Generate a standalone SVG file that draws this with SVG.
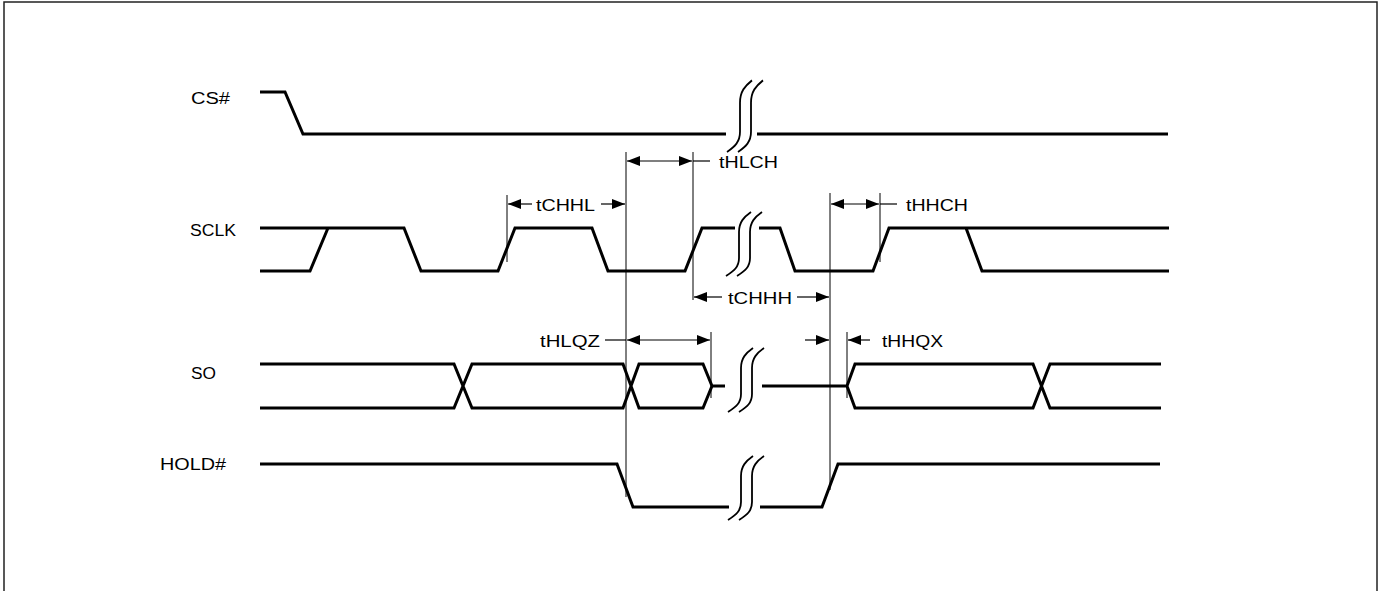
<svg xmlns="http://www.w3.org/2000/svg" xmlns:xlink="http://www.w3.org/1999/xlink" width="1383" height="591" viewBox="0 0 1383 591">
<style>
.sig{fill:none;stroke:#000;stroke-width:3;stroke-linejoin:miter}
.ref{fill:none;stroke:#000;stroke-width:1}
.dim{fill:none;stroke:#000;stroke-width:1.2}
.brk{fill:none;stroke:#000;stroke-width:1.8}
.lbl{font-family:"Liberation Sans",Arial,sans-serif;font-size:16px;fill:#000}
</style>
<defs>
<marker id="ah" markerWidth="14" markerHeight="10" refX="13" refY="5" orient="auto-start-reverse" markerUnits="userSpaceOnUse">
<path d="M0,0 L13,5 L0,10 z" fill="#000"/>
</marker>
<path id="brk" d="M0,0 C8,-5 13,-9 13,-18 L13,-44 C13,-54 18,-59 25,-64 M11,0 C19,-5 24,-9 24,-18 L24,-44 C24,-54 29,-59 36,-64"/>
</defs>
<rect x="0" y="0" width="1383" height="591" fill="#fff"/>
<rect x="4" y="2" width="1373" height="600" fill="none" stroke="#222" stroke-width="1.5"/>

<g id="cs">
<text class="lbl" x="191" y="104" textLength="39" lengthAdjust="spacingAndGlyphs">CS#</text>
<path class="sig" d="M260,92 L285,92 L303,134 L726,134 M757,134 L1168,134"/>
<use href="#brk" class="brk" transform="translate(727,152) scale(1,1.12)"/>
</g>

<g id="sclk">
<text class="lbl" x="190" y="236" textLength="46" lengthAdjust="spacingAndGlyphs">SCLK</text>
<path class="sig" d="M260,228 L404,228 L421,271 L498,271 L515,228 L592,228 L608,271 L685,271 L702,228 L735,228 M260,271 L310,271 L328,228"/>
<path class="sig" d="M759,228 L780,228 L795,271 L873,271 L889,228 L1169,228 M966,228 L982,271 L1169,271"/>
<use href="#brk" class="brk" transform="translate(726,276)"/>
</g>

<g id="so">
<text class="lbl" x="191" y="379" textLength="25" lengthAdjust="spacingAndGlyphs">SO</text>
<path class="sig" d="M260,364 L454,364 L472,408 L623,408 L639,364 L703,364 L712,386 L703,408 L639,408 L623,364 L472,364 L454,408 L260,408 M712,386 L725,386"/>
<path class="sig" d="M762,386 L847,386 L855,364 L1033,364 L1050,408 L1161,408 M847,386 L855,408 L1033,408 L1050,364 L1161,364"/>
<use href="#brk" class="brk" transform="translate(728,412)"/>
</g>

<g id="hold">
<text class="lbl" x="160" y="470" textLength="66" lengthAdjust="spacingAndGlyphs">HOLD#</text>
<path class="sig" d="M260,464 L617,464 L633,507 L729,507 M760,507 L822,507 L838,464 L1160,464"/>
<use href="#brk" class="brk" transform="translate(728,520)"/>
</g>

<g id="connectors">
<path class="ref" d="M507,195 V262 M626,152 V497 M693,152 V300 M711,332 V398 M830,193 V490 M880,193 V262 M847,332 V398"/>
<line class="dim" x1="627" y1="161" x2="692" y2="161" marker-start="url(#ah)" marker-end="url(#ah)"/>
<line class="dim" x1="693" y1="161" x2="710" y2="161"/>
<text class="lbl" x="719" y="168" textLength="59" lengthAdjust="spacingAndGlyphs">tHLCH</text>
<line class="dim" x1="532" y1="204" x2="508" y2="204" marker-end="url(#ah)"/>
<line class="dim" x1="601" y1="204" x2="625" y2="204" marker-end="url(#ah)"/>
<text class="lbl" x="536" y="211" textLength="59" lengthAdjust="spacingAndGlyphs">tCHHL</text>
<line class="dim" x1="831" y1="204" x2="879" y2="204" marker-start="url(#ah)" marker-end="url(#ah)"/>
<line class="dim" x1="880" y1="204" x2="897" y2="204"/>
<text class="lbl" x="906" y="211" textLength="62" lengthAdjust="spacingAndGlyphs">tHHCH</text>
<line class="dim" x1="722" y1="297" x2="694" y2="297" marker-end="url(#ah)"/>
<line class="dim" x1="797" y1="297" x2="829" y2="297" marker-end="url(#ah)"/>
<text class="lbl" x="728" y="304" textLength="64" lengthAdjust="spacingAndGlyphs">tCHHH</text>
<line class="dim" x1="605" y1="340" x2="626" y2="340"/>
<line class="dim" x1="627" y1="340" x2="710" y2="340" marker-start="url(#ah)" marker-end="url(#ah)"/>
<text class="lbl" x="540" y="347" textLength="60" lengthAdjust="spacingAndGlyphs">tHLQZ</text>
<line class="dim" x1="805" y1="340" x2="829" y2="340" marker-end="url(#ah)"/>
<line class="dim" x1="870" y1="340" x2="848" y2="340" marker-end="url(#ah)"/>
<text class="lbl" x="882" y="347" textLength="61" lengthAdjust="spacingAndGlyphs">tHHQX</text>
</g>
</svg>
